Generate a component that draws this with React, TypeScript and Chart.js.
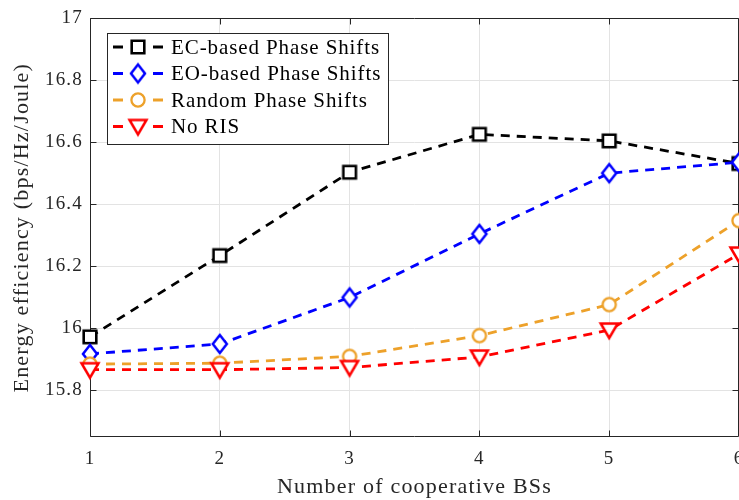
import React, { useEffect, useRef } from 'react';
import { Chart, registerables } from 'chart.js';

Chart.register(...registerables);

const xValues = [1, 2, 3, 4, 5, 6];
const ecValues = [15.973, 16.235, 16.504, 16.626, 16.605, 16.532];
const eoValues = [15.918, 15.95, 16.1, 16.305, 16.501, 16.536];
const randomValues = [15.885, 15.888, 15.91, 15.977, 16.077, 16.348];
const noRisValues = [15.867, 15.867, 15.874, 15.908, 15.995, 16.24];
const seriesLabels = ['EC-based Phase Shifts', 'EO-based Phase Shifts', 'Random Phase Shifts', 'No RIS'];
const seriesColors = ['#000000', '#0000ff', '#eda12a', '#ff0000'];
const seriesMarkers = ['square', 'diamond', 'circle', 'triangle'];
const xTicks = [1, 2, 3, 4, 5, 6];
const yTicks = [15.8, 16, 16.2, 16.4, 16.6, 16.8, 17];
const xTitle = 'Number of cooperative BSs';
const yTitle = 'Energy efficiency (bps/Hz/Joule)';

const FONT = '"Liberation Serif", "Times New Roman", serif';
const AXIS = '#262626';
const SPACING = '1.2px';

function makeMarker(kind: string, color: string): HTMLCanvasElement {
  const c = document.createElement('canvas');
  c.width = 28;
  c.height = 28;
  const g = c.getContext('2d')!;
  const cx = 14, cy = 14;
  g.strokeStyle = color;
  g.fillStyle = '#ffffff';
  g.lineWidth = 2.6;
  g.lineJoin = 'miter';
  g.beginPath();
  if (kind === 'square') {
    g.rect(cx - 6.3, cy - 6.3, 12.6, 12.6);
  } else if (kind === 'diamond') {
    g.lineWidth = 2.5;
    g.moveTo(cx, cy - 9);
    g.lineTo(cx + 7, cy);
    g.lineTo(cx, cy + 9);
    g.lineTo(cx - 7, cy);
    g.closePath();
  } else if (kind === 'circle') {
    g.lineWidth = 2.3;
    g.arc(cx, cy, 6.6, 0, Math.PI * 2);
  } else {
    g.lineWidth = 2.5;
    g.moveTo(cx - 8.5, cy - 6.5);
    g.lineTo(cx + 8.5, cy - 6.5);
    g.lineTo(cx, cy + 8);
    g.closePath();
  }
  g.fill();
  g.stroke();
  return c;
}

export default function App() {
  const ref = useRef<HTMLCanvasElement | null>(null);

  useEffect(() => {
    if (!ref.current) return;
    const markers = seriesMarkers.map((m, i) => makeMarker(m, seriesColors[i]));
    const seriesValues = [ecValues, eoValues, randomValues, noRisValues];

    const spacing = {
      id: 'spacing',
      beforeUpdate(chart: any) {
        chart.ctx.letterSpacing = SPACING;
      },
      beforeLayout(chart: any) {
        chart.ctx.letterSpacing = SPACING;
      },
      beforeDraw(chart: any) {
        chart.ctx.letterSpacing = SPACING;
      },
    };

    const frame = {
      id: 'frame',
      beforeDatasetsDraw(chart: any) {
        const { ctx, chartArea } = chart;
        const { left, right, top, bottom } = chartArea;
        const xs = chart.scales.x;
        const ys = chart.scales.y;
        const L = Math.round(left) + 0.5;
        const R = Math.round(right) - 0.5;
        const T = Math.round(top) + 0.5;
        const B = Math.round(bottom) - 0.5;
        ctx.save();
        ctx.strokeStyle = AXIS;
        ctx.lineWidth = 1;
        ctx.beginPath();
        ctx.moveTo(L, T);
        ctx.lineTo(R, T);
        ctx.lineTo(R, B);
        ctx.lineTo(L, B);
        ctx.closePath();
        const tl = 6;
        xTicks.forEach((v) => {
          const px = Math.round(xs.getPixelForValue(v)) + 0.5;
          ctx.moveTo(px, B);
          ctx.lineTo(px, B - tl);
          ctx.moveTo(px, T);
          ctx.lineTo(px, T + tl);
        });
        yTicks.forEach((v) => {
          const py = Math.round(ys.getPixelForValue(v)) + 0.5;
          ctx.moveTo(L, py);
          ctx.lineTo(L + tl, py);
          ctx.moveTo(R, py);
          ctx.lineTo(R - tl, py);
        });
        ctx.stroke();
        ctx.restore();
      },
    };

    const legend = {
      id: 'matlabLegend',
      afterDraw(chart: any) {
        const { ctx } = chart;
        const bx = 107, by = 33, bw = 281, bh = 111;
        ctx.save();
        ctx.fillStyle = '#ffffff';
        ctx.fillRect(bx, by, bw, bh);
        ctx.strokeStyle = AXIS;
        ctx.lineWidth = 1;
        ctx.strokeRect(bx + 0.5, by + 0.5, bw, bh);
        const rows = [47, 73.5, 100, 126.5];
        seriesLabels.forEach((lab, i) => {
          const y = rows[i];
          ctx.strokeStyle = seriesColors[i];
          ctx.lineWidth = 2.8;
          ctx.setLineDash([]);
          ctx.beginPath();
          ctx.moveTo(113, y);
          ctx.lineTo(123, y);
          ctx.moveTo(153, y);
          ctx.lineTo(163, y);
          ctx.stroke();
          const m = markers[i];
          ctx.drawImage(m, 138 - m.width / 2, y - m.height / 2);
          ctx.fillStyle = '#000000';
          ctx.font = `21px ${FONT}`;
          ctx.letterSpacing = '0.9px';
          ctx.textBaseline = 'middle';
          ctx.textAlign = 'left';
          ctx.fillText(lab, 171, y + 1);
        });
        ctx.restore();
      },
    };

    const chart = new Chart(ref.current, {
      type: 'line',
      data: {
        datasets: seriesLabels.map((lab, i) => ({
          label: lab,
          data: xValues.map((x, j) => ({ x, y: seriesValues[i][j] })),
          borderColor: seriesColors[i],
          backgroundColor: '#ffffff',
          borderWidth: 2.8,
          borderDash: [9, 7],
          pointStyle: markers[i] as any,
          pointRadius: 8,
          tension: 0,
          clip: false as any,
          order: 3 - i,
        })),
      },
      options: {
        animation: false,
        responsive: false,
        devicePixelRatio: 1,
        layout: { padding: { top: 16, right: 31, left: 0, bottom: 0 } },
        plugins: { legend: { display: false }, tooltip: { enabled: false } },
        scales: {
          x: {
            type: 'linear',
            min: 1,
            max: 6,
            afterBuildTicks: (s: any) => {
              s.ticks = xTicks.map((v) => ({ value: v }));
            },
            afterFit: (s: any) => {
              s.height = 63;
            },
            border: { display: false },
            grid: { color: '#e3e3e3', drawTicks: false, lineWidth: 1 },
            ticks: {
              color: AXIS,
              font: { family: FONT, size: 19 },
              padding: 11,
              maxRotation: 0,
              autoSkip: false,
              callback: (v: any) => String(v),
            },
            title: {
              display: true,
              text: xTitle,
              color: AXIS,
              font: { family: FONT, size: 22 },
              padding: { top: 0, bottom: 0 },
            },
          },
          y: {
            type: 'linear',
            min: 15.65,
            max: 17,
            afterBuildTicks: (s: any) => {
              s.ticks = yTicks.map((v) => ({ value: v }));
            },
            afterFit: (s: any) => {
              s.width = 90;
            },
            border: { display: false },
            grid: { color: '#e3e3e3', drawTicks: false, lineWidth: 1 },
            ticks: {
              color: AXIS,
              font: { family: FONT, size: 19 },
              padding: 7,
              autoSkip: false,
              callback: (v: any) => String(Number(Number(v).toFixed(1))),
            },
            title: {
              display: true,
              text: yTitle,
              color: AXIS,
              font: { family: FONT, size: 22 },
              padding: { top: 9, bottom: 0 },
            },
          },
        },
      },
      plugins: [spacing, frame, legend],
    });
    return () => chart.destroy();
  }, []);

  return (
    <div style={{ position: 'absolute', left: 0, top: 0, width: 739, height: 500, overflow: 'hidden', background: '#fff' }}>
      <canvas ref={ref} width={770} height={500} style={{ display: 'block' }} />
    </div>
  );
}
